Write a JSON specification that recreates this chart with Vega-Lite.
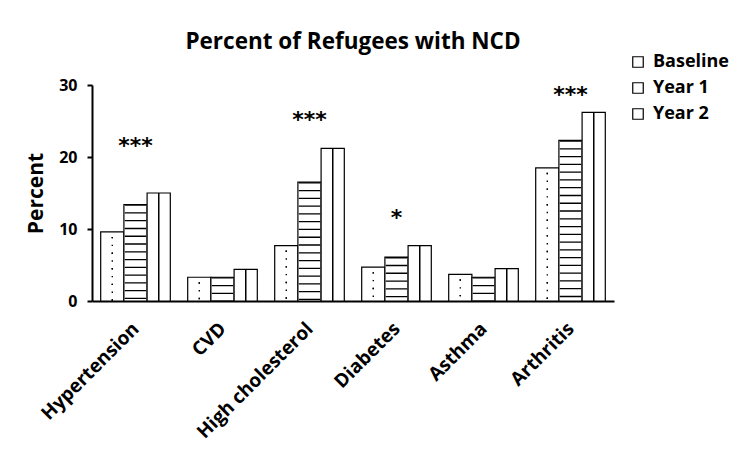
{
  "$schema": "https://vega.github.io/schema/vega-lite/v6.json",
  "width": 522,
  "height": 216,
  "autosize": {"type": "none"},
  "padding": {"left": 92, "top": 85, "right": 140, "bottom": 168},
  "background": "white",
  "config": {
    "font": "Open Sans",
    "view": {"stroke": null},
    "axis": {"grid": false, "domainColor": "black", "domainWidth": 2, "tickColor": "black", "tickWidth": 2, "labelColor": "black", "titleColor": "black", "labelFont": "Open Sans", "titleFont": "Open Sans", "labelFontWeight": "bold", "titleFontWeight": "bold"},
    "legend": {"labelFont": "Open Sans", "labelFontWeight": "bold", "labelFontSize": 18, "labelColor": "black"}
  },
  "title": {"text": "Percent of Refugees with NCD", "font": "Open Sans", "fontSize": 22.5, "fontWeight": "bold", "color": "black", "anchor": "middle", "frame": "group", "offset": 0},
  "datasets": {
    "bars": [
      {"condition": "Hypertension", "period": "Baseline", "percent": 9.6},
      {"condition": "Hypertension", "period": "Year 1", "percent": 13.4},
      {"condition": "Hypertension", "period": "Year 2", "percent": 15.0},
      {"condition": "CVD", "period": "Baseline", "percent": 3.3},
      {"condition": "CVD", "period": "Year 1", "percent": 3.3},
      {"condition": "CVD", "period": "Year 2", "percent": 4.4},
      {"condition": "High cholesterol", "period": "Baseline", "percent": 7.7},
      {"condition": "High cholesterol", "period": "Year 1", "percent": 16.5},
      {"condition": "High cholesterol", "period": "Year 2", "percent": 21.2},
      {"condition": "Diabetes", "period": "Baseline", "percent": 4.7},
      {"condition": "Diabetes", "period": "Year 1", "percent": 6.1},
      {"condition": "Diabetes", "period": "Year 2", "percent": 7.7},
      {"condition": "Asthma", "period": "Baseline", "percent": 3.7},
      {"condition": "Asthma", "period": "Year 1", "percent": 3.3},
      {"condition": "Asthma", "period": "Year 2", "percent": 4.5},
      {"condition": "Arthritis", "period": "Baseline", "percent": 18.5},
      {"condition": "Arthritis", "period": "Year 1", "percent": 22.3},
      {"condition": "Arthritis", "period": "Year 2", "percent": 26.2}
    ],
    "stars": [
      {"condition": "Hypertension", "label": "***", "y": 22.3},
      {"condition": "High cholesterol", "label": "***", "y": 26.0},
      {"condition": "Diabetes", "label": "*", "y": 12.4},
      {"condition": "Arthritis", "label": "***", "y": 29.4}
    ]
  },
  "encoding": {
    "x": {"field": "condition", "type": "nominal", "sort": ["Hypertension", "CVD", "High cholesterol", "Diabetes", "Asthma", "Arthritis"],
      "scale": {"domain": ["Hypertension", "CVD", "High cholesterol", "Diabetes", "Asthma", "Arthritis"], "paddingInner": 0.2, "paddingOuter": 0.1},
      "axis": {"title": null, "labelAngle": -45, "labelAlign": "right", "labelBaseline": "top", "labelFontSize": 19, "labelPadding": 18, "labelOffset": -6, "ticks": false}}
  },
  "layer": [
    {
      "data": {"name": "bars"},
      "mark": {"type": "bar", "stroke": "black", "strokeWidth": 1.2},
      "encoding": {
        "xOffset": {"field": "period", "type": "nominal", "scale": {"domain": ["Baseline", "Year 1", "Year 2"], "paddingInner": 0, "paddingOuter": 0}},
        "y": {"field": "percent", "type": "quantitative", "scale": {"domain": [0, 30]},
          "axis": {"title": "Percent", "titleFontSize": 21, "titlePadding": 12, "values": [0, 10, 20, 30], "labelFontSize": 16, "tickSize": 5, "labelPadding": 10}},
        "fill": {"field": "period", "type": "nominal", "scale": {"domain": ["Baseline", "Year 1", "Year 2"], "range": ["white", "white", "white"]},
          "legend": {"title": null, "orient": "none", "legendX": 537, "legendY": -32, "symbolType": "square", "symbolSize": 110, "symbolStrokeColor": "black", "symbolStrokeWidth": 1.2, "rowPadding": 8, "labelOffset": 6}}
      }
    },
    {
      "data": {"name": "bars"},
      "transform": [{"filter": "datum.period === 'Year 1'"}],
      "mark": {"type": "rule", "color": "black", "strokeWidth": 21.5, "strokeDash": [1.3, 6.47]},
      "encoding": {
        "xOffset": {"field": "period", "type": "nominal", "scale": {"domain": ["Baseline", "Year 1", "Year 2"], "paddingInner": 0, "paddingOuter": 0}},
        "y": {"field": "percent", "type": "quantitative"},
        "y2": {"datum": 0}
      }
    },
    {
      "data": {"name": "bars"},
      "transform": [{"filter": "datum.period === 'Year 2'"}],
      "mark": {"type": "rule", "color": "black", "strokeWidth": 1.2, "xOffset": -3.9},
      "encoding": {
        "xOffset": {"field": "period", "type": "nominal", "scale": {"domain": ["Baseline", "Year 1", "Year 2"], "paddingInner": 0, "paddingOuter": 0}},
        "y": {"field": "percent", "type": "quantitative"},
        "y2": {"datum": 0}
      }
    },
    {
      "data": {"name": "bars"},
      "transform": [{"filter": "datum.period === 'Year 2'"}],
      "mark": {"type": "rule", "color": "black", "strokeWidth": 1.2, "xOffset": 3.9},
      "encoding": {
        "xOffset": {"field": "period", "type": "nominal", "scale": {"domain": ["Baseline", "Year 1", "Year 2"], "paddingInner": 0, "paddingOuter": 0}},
        "y": {"field": "percent", "type": "quantitative"},
        "y2": {"datum": 0}
      }
    },
    {
      "data": {"name": "bars"},
      "transform": [{"filter": "datum.period === 'Baseline'"}],
      "mark": {"type": "rule", "color": "black", "strokeWidth": 1.4, "strokeDash": [1.4, 14.2], "strokeDashOffset": -5, "xOffset": -8},
      "encoding": {
        "xOffset": {"field": "period", "type": "nominal", "scale": {"domain": ["Baseline", "Year 1", "Year 2"], "paddingInner": 0, "paddingOuter": 0}},
        "y": {"field": "percent", "type": "quantitative"},
        "y2": {"datum": 0}
      }
    },
    {
      "data": {"name": "bars"},
      "transform": [{"filter": "datum.period === 'Baseline'"}],
      "mark": {"type": "rule", "color": "black", "strokeWidth": 1.4, "strokeDash": [1.4, 14.2], "strokeDashOffset": -5, "xOffset": 7},
      "encoding": {
        "xOffset": {"field": "period", "type": "nominal", "scale": {"domain": ["Baseline", "Year 1", "Year 2"], "paddingInner": 0, "paddingOuter": 0}},
        "y": {"field": "percent", "type": "quantitative"},
        "y2": {"datum": 0}
      }
    },
    {
      "data": {"name": "bars"},
      "transform": [{"filter": "datum.period === 'Baseline'"}],
      "mark": {"type": "rule", "color": "black", "strokeWidth": 1.4, "strokeDash": [1.4, 14.2], "strokeDashOffset": -12.8, "xOffset": -0.5},
      "encoding": {
        "xOffset": {"field": "period", "type": "nominal", "scale": {"domain": ["Baseline", "Year 1", "Year 2"], "paddingInner": 0, "paddingOuter": 0}},
        "y": {"field": "percent", "type": "quantitative"},
        "y2": {"datum": 0}
      }
    },
    {
      "data": {"name": "stars"},
      "mark": {"type": "text", "font": "DejaVu Sans", "fontSize": 22, "fontWeight": "bold", "color": "black", "baseline": "middle", "align": "center", "dy": 6},
      "encoding": {
        "y": {"field": "y", "type": "quantitative"},
        "text": {"field": "label"}
      }
    }
  ]
}
